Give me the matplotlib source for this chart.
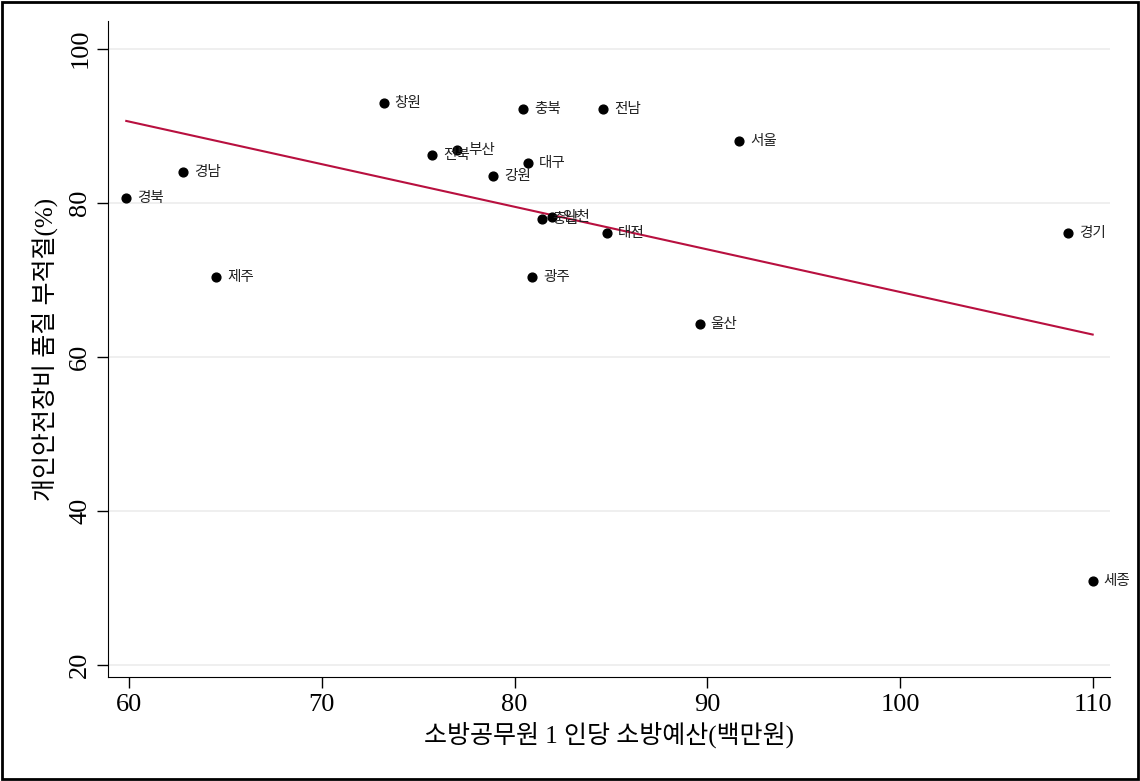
import numpy as np
import matplotlib
matplotlib.use("Agg")
import matplotlib.pyplot as plt
from matplotlib.patches import Rectangle

# 지역별 1인당 소방예산(백만원) vs 개인안전장비 품질 부적절(%)
regions = ['창원', '충북', '전남', '서울', '전북', '부산', '대구', '강원', '경남',
           '경북', '충남', '인천', '대전', '경기', '제주', '광주', '울산', '세종']
budget = [73.2, 80.45, 84.6, 91.65, 75.7, 77.0, 80.7, 78.9, 62.8,
          59.85, 81.4, 81.95, 84.8, 108.7, 64.5, 80.9, 89.6, 110.0]
improper = [93.0, 92.2, 92.1, 88.05, 86.2, 86.9, 85.1, 83.4, 84.0,
            80.65, 77.9, 78.2, 76.1, 76.0, 70.3, 70.3, 64.3, 30.9]

xticks = [60, 70, 80, 90, 100, 110]
yticks = [20, 40, 60, 80, 100]

serif = ['Liberation Serif', 'Noto Sans CJK KR']
label_font = ['Noto Sans CJK KR', 'DejaVu Sans']

fig = plt.figure(figsize=(11.4, 7.81), dpi=100)
ax = fig.add_axes([0.0947, 0.1332, 0.879, 0.84])

ax.set_xlim(58.9, 110.9)
ax.set_ylim(18.4, 103.6)

for t in yticks:
    ax.axhline(t, color='#ececec', lw=1.2, zorder=0)

ax.scatter(budget, improper, s=40, color='black', zorder=3)
for name, x, y in zip(regions, budget, improper):
    ax.annotate(name, (x, y), xytext=(8, 0), textcoords='offset points',
                va='center', ha='left', fontsize=10.5, family=label_font,
                color='#222222')

# 선형 적합선
b, a = np.polyfit(budget, improper, 1)
xs = np.array([min(budget), max(budget)])
ax.plot(xs, a + b * xs, color='#b8103f', lw=1.5, zorder=2)

ax.spines['top'].set_visible(False)
ax.spines['right'].set_visible(False)
ax.set_xticks(xticks)
ax.set_yticks(yticks)
ax.tick_params(direction='out', length=8, width=1, labelsize=19, pad=4)
for lab in ax.get_xticklabels() + ax.get_yticklabels():
    lab.set_family(serif)
for lab in ax.get_yticklabels():
    lab.set_rotation(90)
    lab.set_va('center')

ax.set_xlabel('소방공무원 1 인당 소방예산(백만원)', family=serif, fontsize=18, labelpad=4)
ax.set_ylabel('개인안전장비 품질 부적절(%)', family=serif, fontsize=18, labelpad=8)

fig.patches.append(Rectangle((0.002, 0.003), 0.996, 0.994, transform=fig.transFigure,
                             fill=False, edgecolor='black', lw=2))

fig.savefig('out.png', dpi=100)
